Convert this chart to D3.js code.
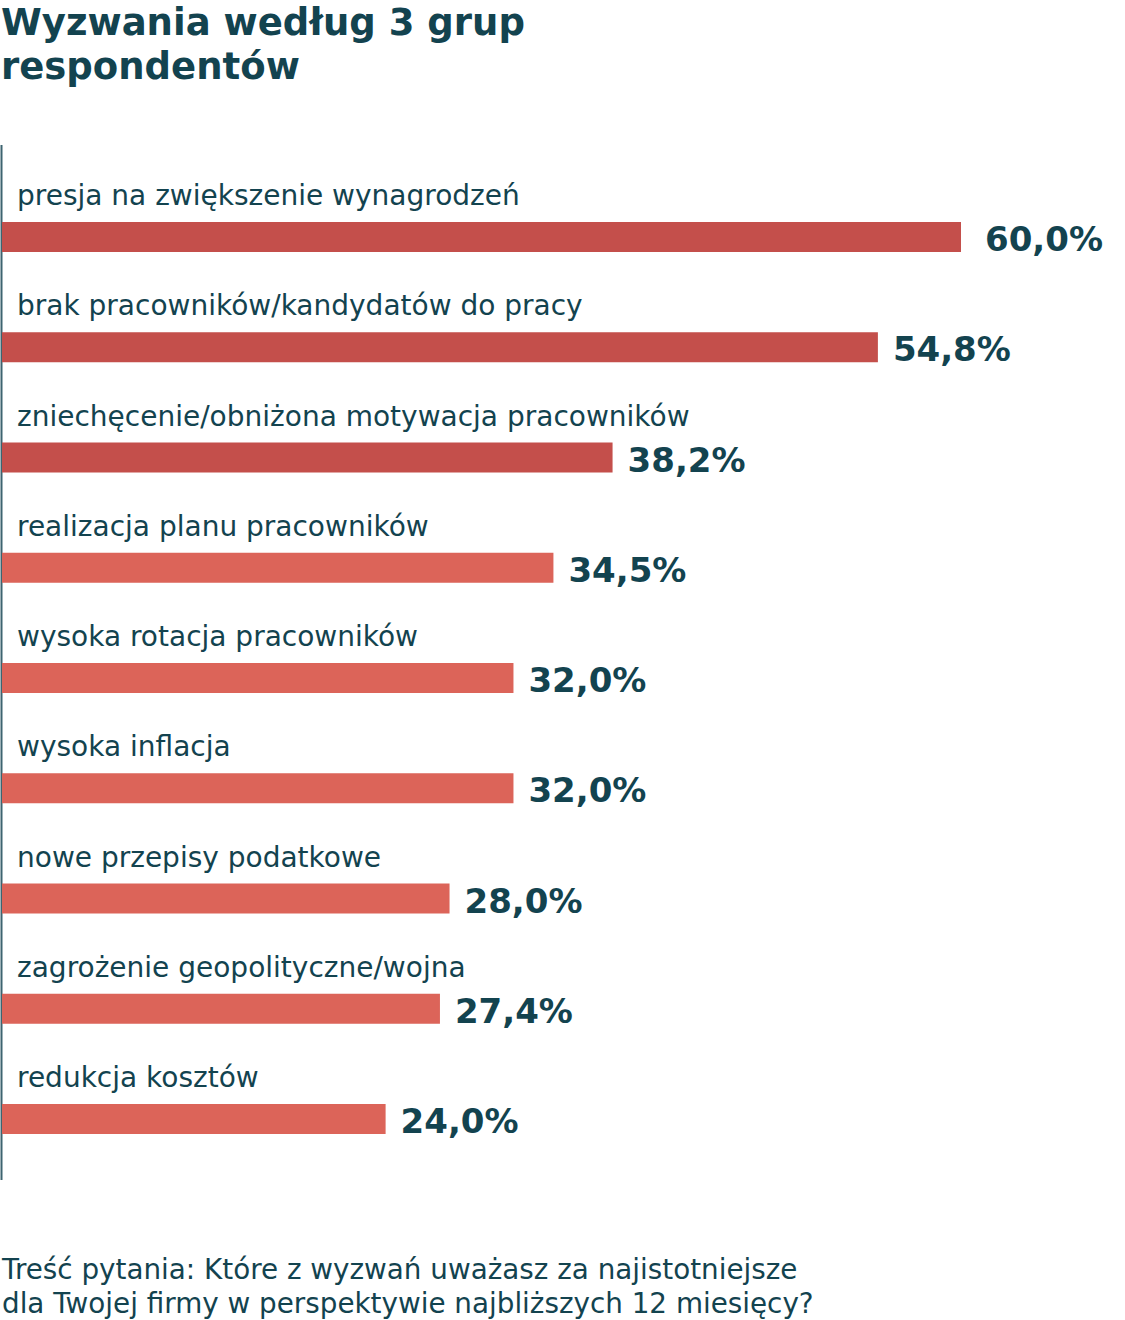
<!DOCTYPE html>
<html><head><meta charset="utf-8">
<script src="https://cdn.jsdelivr.net/npm/d3@7"></script>
<style>
html,body{margin:0;padding:0;background:#fff;}
svg{display:block;}
</style></head>
<body>
<script>
const titleLines = ["Wyzwania według 3 grup", "respondentów"];
const categories = [
  "presja na zwiększenie wynagrodzeń",
  "brak pracowników/kandydatów do pracy",
  "zniechęcenie/obniżona motywacja pracowników",
  "realizacja planu pracowników",
  "wysoka rotacja pracowników",
  "wysoka inflacja",
  "nowe przepisy podatkowe",
  "zagrożenie geopolityczne/wojna",
  "redukcja kosztów"
];
const values = [60.0, 54.8, 38.2, 34.5, 32.0, 32.0, 28.0, 27.4, 24.0];
const highlighted = [true, true, true, false, false, false, false, false, false];
const footerLines = [
  "Treść pytania: Które z wyzwań uważasz za najistotniejsze",
  "dla Twojej firmy w perspektywie najbliższych 12 miesięcy?"
];

const W = 1125, H = 1320;
const ink = "#13434f";
const FONT = "'DejaVu Sans', sans-serif";

const svg = d3.select("body").append("svg").attr("width", W).attr("height", H);

const x = d3.scaleLinear().domain([0, 60]).range([2, 961]);
const y = d3.scaleBand().domain(categories).range([142, 1134.25]).padding(0);
const barH = 30;

// title
svg.append("g").selectAll("text").data(titleLines).join("text")
  .attr("x", 1).attr("y", (d, i) => 35 + i * 44)
  .attr("font-family", FONT).attr("font-weight", "bold").attr("font-size", 37)
  .attr("fill", ink).text(d => d);

// axis line
svg.append("line").attr("x1", 1.5).attr("x2", 1.5).attr("y1", 145).attr("y2", 1180)
  .attr("stroke", "#3d6470").attr("stroke-width", 2);

const rows = svg.append("g").selectAll("g").data(categories).join("g")
  .attr("transform", d => `translate(0,${y(d)})`);

rows.append("text")
  .attr("x", 17).attr("y", 63)
  .attr("font-family", FONT).attr("font-size", 28)
  .attr("fill", ink).text(d => d);

rows.append("rect")
  .attr("x", x(0)).attr("y", 80)
  .attr("width", (d, i) => x(values[i]) - x(0)).attr("height", barH)
  .attr("fill", (d, i) => highlighted[i] ? "#c44f4b" : "#dc6459");

rows.append("text")
  .attr("x", (d, i) => x(values[i]) + (i === 0 ? 24 : 15)).attr("y", 109)
  .attr("font-family", FONT).attr("font-weight", "bold").attr("font-size", 34)
  .attr("fill", ink)
  .text((d, i) => d3.format(".1f")(values[i]).replace(".", ",") + "%");

// footer
svg.append("g").selectAll("text").data(footerLines).join("text")
  .attr("x", 2).attr("y", (d, i) => 1279 + i * 34)
  .attr("font-family", FONT).attr("font-size", 27.8)
  .attr("fill", ink).text(d => d);
</script>
</body></html>
